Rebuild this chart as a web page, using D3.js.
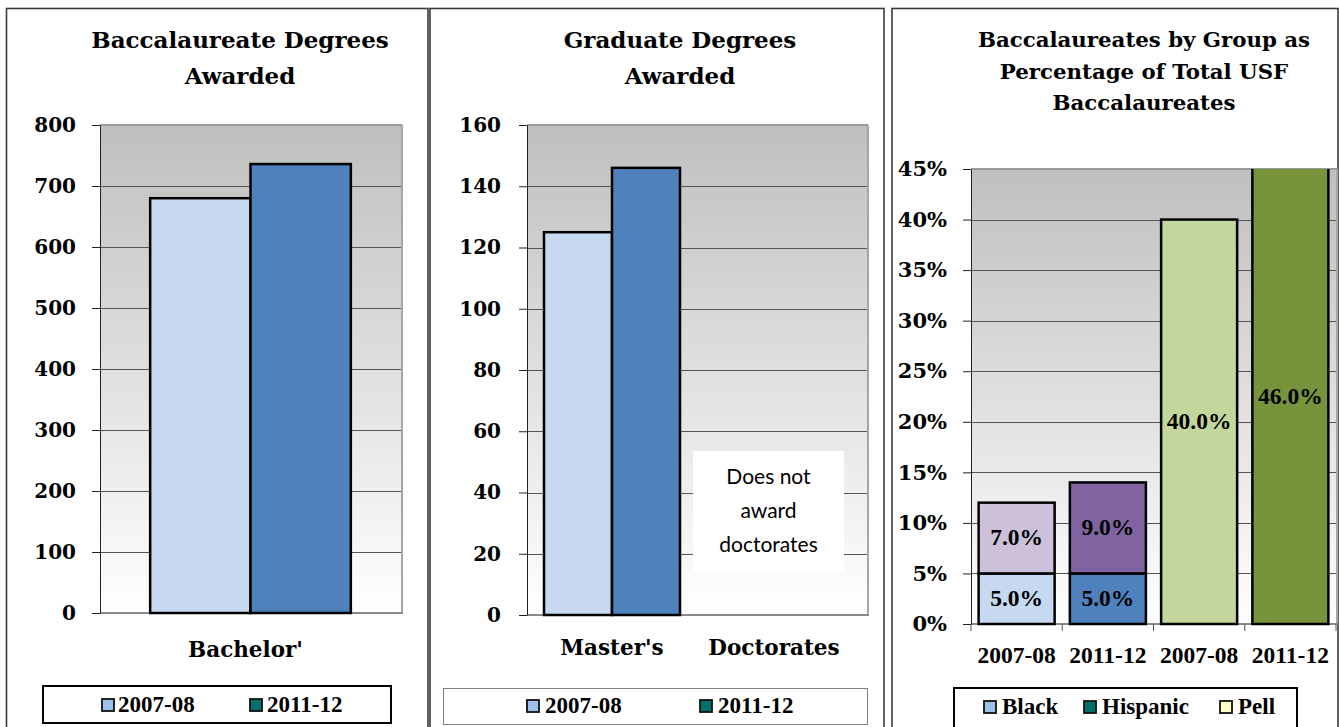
<!DOCTYPE html>
<html><head><meta charset="utf-8">
<script src="https://cdn.jsdelivr.net/npm/d3@7"></script>
<style>body{margin:0;background:#fff}svg{display:block}</style>
</head><body><svg id="c" width="1339" height="727"></svg>
<script>
// ---------- DATA ----------
const seriesNames = ["2007-08", "2011-12"];
const bacCategories = ["Bachelor'"];
const bac0708 = [680];
const bac1112 = [736];
const bacTicks = [0, 100, 200, 300, 400, 500, 600, 700, 800];

const gradCategories = ["Master's", "Doctorates"];
const grad0708 = [125, null];
const grad1112 = [146, null];
const gradTicks = [0, 20, 40, 60, 80, 100, 120, 140, 160];
const gradNote = ["Does not", "award", "doctorates"];

const groupCategories = ["2007-08", "2011-12", "2007-08", "2011-12"];
const groupBlack = [5.0, 5.0, null, null];
const groupHispanic = [7.0, 9.0, null, null];
const groupPell = [null, null, 40.0, 46.0];
const groupTicks = [0, 5, 10, 15, 20, 25, 30, 35, 40, 45];
const groupLegend = ["Black", "Hispanic", "Pell"];

const titles = [["Baccalaureate Degrees", "Awarded"], ["Graduate Degrees", "Awarded"],
  ["Baccalaureates by Group as", "Percentage of Total USF", "Baccalaureates"]];

// ---------- STYLE ----------
const SERIF = "'DejaVu Serif', serif";
const TIMES = "'Liberation Serif', serif";
const barLight = "#c6d9f1", barDark = "#4f81bd";
const legendColors = ["#9cc2ea", "#00716a", "#ffffc8"];

const svg = d3.select("#c");
const defs = svg.append("defs");
const bg = defs.append("linearGradient").attr("id", "bg").attr("x1", 0).attr("y1", 0).attr("x2", 0).attr("y2", 1);
bg.append("stop").attr("offset", "0%").attr("stop-color", "#bfbfbf");
bg.append("stop").attr("offset", "100%").attr("stop-color", "#ffffff");

// panel borders
[[6.5, 428], [430, 884], [892, 1338]].forEach(([a, b]) => {
  svg.append("rect").attr("x", a).attr("y", 8.5).attr("width", b - a).attr("height", 760)
    .attr("fill", "none").attr("stroke", "#3a3a3a").attr("stroke-width", 1.6);
});

function title(lines, cx, baselines, size) {
  lines.forEach((t, i) => svg.append("text").attr("x", cx).attr("y", baselines[i])
    .attr("text-anchor", "middle").attr("font-family", SERIF).attr("font-weight", "bold")
    .attr("font-size", size).attr("fill", "#000").text(t));
}

function plotFrame(x0, x1, y, ticks, fmt, fontSize, pad) {
  const [yb, yt] = y.range();
  svg.append("rect").attr("x", x0).attr("y", yt).attr("width", x1 - x0).attr("height", yb - yt).attr("fill", "url(#bg)");
  svg.append("g").selectAll("line").data(ticks.filter(t => t !== 0)).join("line")
    .attr("x1", x0).attr("x2", x1).attr("y1", d => Math.round(y(d)) + 0.5).attr("y2", d => Math.round(y(d)) + 0.5)
    .attr("stroke", "#555").attr("stroke-width", 1);
  svg.append("line").attr("x1", x0).attr("x2", x1 + 1).attr("y1", yt).attr("y2", yt).attr("stroke", "#9a9a9a").attr("stroke-width", 2);
  svg.append("line").attr("x1", x1 + 1).attr("x2", x1 + 1).attr("y1", yt).attr("y2", yb).attr("stroke", "#a6a6a6").attr("stroke-width", 2);
  svg.append("line").attr("x1", x0).attr("x2", x1 + 2).attr("y1", yb).attr("y2", yb).attr("stroke", "#8a8a8a").attr("stroke-width", 2);
  const ax = svg.append("g").attr("transform", `translate(${x0},0)`)
    .call(d3.axisLeft(y).tickValues(ticks).tickSize(8).tickSizeOuter(0).tickPadding(pad).tickFormat(fmt));
  ax.select(".domain").attr("stroke", "#222");
  ax.selectAll(".tick line").attr("stroke", "#222");
  ax.selectAll("text").attr("font-family", SERIF).attr("font-weight", "bold").attr("font-size", fontSize).attr("fill", "#000");
}

function legendBox(x, y, w, h, stroke, sw) {
  svg.append("rect").attr("x", x).attr("y", y).attr("width", w).attr("height", h)
    .attr("fill", "#fff").attr("stroke", stroke).attr("stroke-width", sw);
}
function legendItem(mx, tx, baseline, color, label) {
  svg.append("rect").attr("x", mx).attr("y", baseline - 13).attr("width", 12).attr("height", 12)
    .attr("fill", color).attr("stroke", "#111").attr("stroke-width", 1.8);
  svg.append("text").attr("x", tx).attr("y", baseline).attr("font-family", TIMES).attr("font-weight", "bold")
    .attr("font-size", 23).attr("fill", "#000").text(label);
}

// ---------- PANEL 1 ----------
{
  const x = d3.scaleBand(bacCategories, [100, 401]).paddingInner(0.2).paddingOuter(0.2);
  const xs = d3.scaleBand(seriesNames, [0, x.bandwidth()]);
  const y = d3.scaleLinear([0, 800], [613, 125]);
  title(titles[0], 240, [48, 84], 23);
  plotFrame(100, 401, y, bacTicks, d3.format("d"), 20, 16);
  const rows = bacCategories.map((c, i) => ({ c, v: [bac0708[i], bac1112[i]] }));
  rows.forEach(r => r.v.forEach((v, j) => {
    if (v == null) return;
    svg.append("rect").attr("x", x(r.c) + xs(seriesNames[j])).attr("y", y(v))
      .attr("width", xs.bandwidth()).attr("height", y(0) - y(v))
      .attr("fill", j === 0 ? barLight : barDark).attr("stroke", "#000").attr("stroke-width", 2.5);
  }));
  bacCategories.forEach(c => svg.append("text").attr("x", x(c) + x.bandwidth() / 2 - 5).attr("y", 657)
    .attr("text-anchor", "middle").attr("font-family", SERIF).attr("font-weight", "bold").attr("font-size", 21.5).text(c));
  legendBox(43, 686, 348, 37, "#000", 2);
  legendItem(102, 118, 712, legendColors[0], seriesNames[0]);
  legendItem(250, 267, 712, legendColors[1], seriesNames[1]);
}

// ---------- PANEL 2 ----------
{
  const x = d3.scaleBand(gradCategories, [527, 867]).paddingInner(0.2).paddingOuter(0.1);
  const xs = d3.scaleBand(seriesNames, [0, x.bandwidth()]);
  const y = d3.scaleLinear([0, 160], [615, 125]);
  title(titles[1], 680, [48, 84], 23);
  plotFrame(527, 867, y, gradTicks, d3.format("d"), 20, 18);
  const rows = gradCategories.map((c, i) => ({ c, v: [grad0708[i], grad1112[i]] }));
  rows.forEach(r => r.v.forEach((v, j) => {
    if (v == null) return;
    svg.append("rect").attr("x", x(r.c) + xs(seriesNames[j])).attr("y", y(v))
      .attr("width", xs.bandwidth()).attr("height", y(0) - y(v))
      .attr("fill", j === 0 ? barLight : barDark).attr("stroke", "#000").attr("stroke-width", 2.5);
  }));
  gradCategories.forEach((c, i) => svg.append("text").attr("x", x(c) + x.bandwidth() / 2 + (i ? -8 : 0)).attr("y", 655)
    .attr("text-anchor", "middle").attr("font-family", SERIF).attr("font-weight", "bold").attr("font-size", 21.5).text(c));
  svg.append("rect").attr("x", 693).attr("y", 451).attr("width", 151).attr("height", 122).attr("fill", "#fff");
  gradNote.forEach((t, i) => svg.append("text").attr("x", 768.5).attr("y", 484 + i * 34)
    .attr("text-anchor", "middle").attr("font-family", "Lato, 'Open Sans', sans-serif").attr("font-size", 21).attr("fill", "#000").text(t));
  legendBox(443.5, 688.5, 424, 36, "#7f7f7f", 1);
  legendItem(527, 545, 713, legendColors[0], seriesNames[0]);
  legendItem(700, 718, 713, legendColors[1], seriesNames[1]);
}

// ---------- PANEL 3 ----------
{
  const idx = d3.range(groupCategories.length);
  const x = d3.scaleBand(idx, [971, 1336]).paddingInner(0.167).paddingOuter(0.0835);
  const y = d3.scaleLinear([0, 45], [624, 169]);
  title(titles[2], 1144, [47, 79, 110], 21.3);
  plotFrame(971, 1336, y, groupTicks, d => d + "%", 21, 16);
  svg.append("g").selectAll("line").data(d3.range(idx.length + 1)).join("line")
    .attr("x1", i => 971 + i * x.step()).attr("x2", i => 971 + i * x.step())
    .attr("y1", 624).attr("y2", 631).attr("stroke", "#555").attr("stroke-width", 1);
  defs.append("clipPath").attr("id", "clip3").append("rect").attr("x", 960).attr("y", 169).attr("width", 380).attr("height", 470);
  const keys = ["black", "hispanic", "pell"];
  const segColors = {
    black: ["#c6d9f1", "#4f81bd", null, null],
    hispanic: ["#ccc0da", "#8064a2", null, null],
    pell: [null, null, "#c3d69b", "#77933c"]
  };
  const rows = idx.map(i => ({ i, black: groupBlack[i] || 0, hispanic: groupHispanic[i] || 0, pell: groupPell[i] || 0 }));
  const stack = d3.stack().keys(keys)(rows);
  const gBars = svg.append("g").attr("clip-path", "url(#clip3)");
  const fmt = d3.format(".1f");
  stack.forEach(layer => layer.forEach((s, i) => {
    const v = s[1] - s[0];
    if (!v) return;
    gBars.append("rect").attr("x", x(i)).attr("y", y(s[1])).attr("width", x.bandwidth()).attr("height", y(s[0]) - y(s[1]))
      .attr("fill", segColors[layer.key][i]).attr("stroke", "#000").attr("stroke-width", 2.5);
  }));
  stack.forEach(layer => layer.forEach((s, i) => {
    const v = s[1] - s[0];
    if (!v) return;
    const top = Math.max(y(s[1]), y.range()[1]);
    const cy = (top + y(s[0])) / 2;
    svg.append("text").attr("x", x(i) + x.bandwidth() / 2).attr("y", cy + 7)
      .attr("text-anchor", "middle").attr("font-family", TIMES).attr("font-weight", "bold").attr("font-size", 23.5)
      .attr("fill", "#000").text(fmt(v) + "%");
  }));
  idx.forEach(i => svg.append("text").attr("x", x(i) + x.bandwidth() / 2).attr("y", 663)
    .attr("text-anchor", "middle").attr("font-family", TIMES).attr("font-weight", "bold").attr("font-size", 23.5).text(groupCategories[i]));
  legendBox(954, 688, 343, 50, "#000", 2);
  legendItem(984, 1002, 714, legendColors[0], groupLegend[0]);
  legendItem(1084, 1102, 714, legendColors[1], groupLegend[1]);
  legendItem(1220, 1238, 714, legendColors[2], groupLegend[2]);
}
</script></body></html>
